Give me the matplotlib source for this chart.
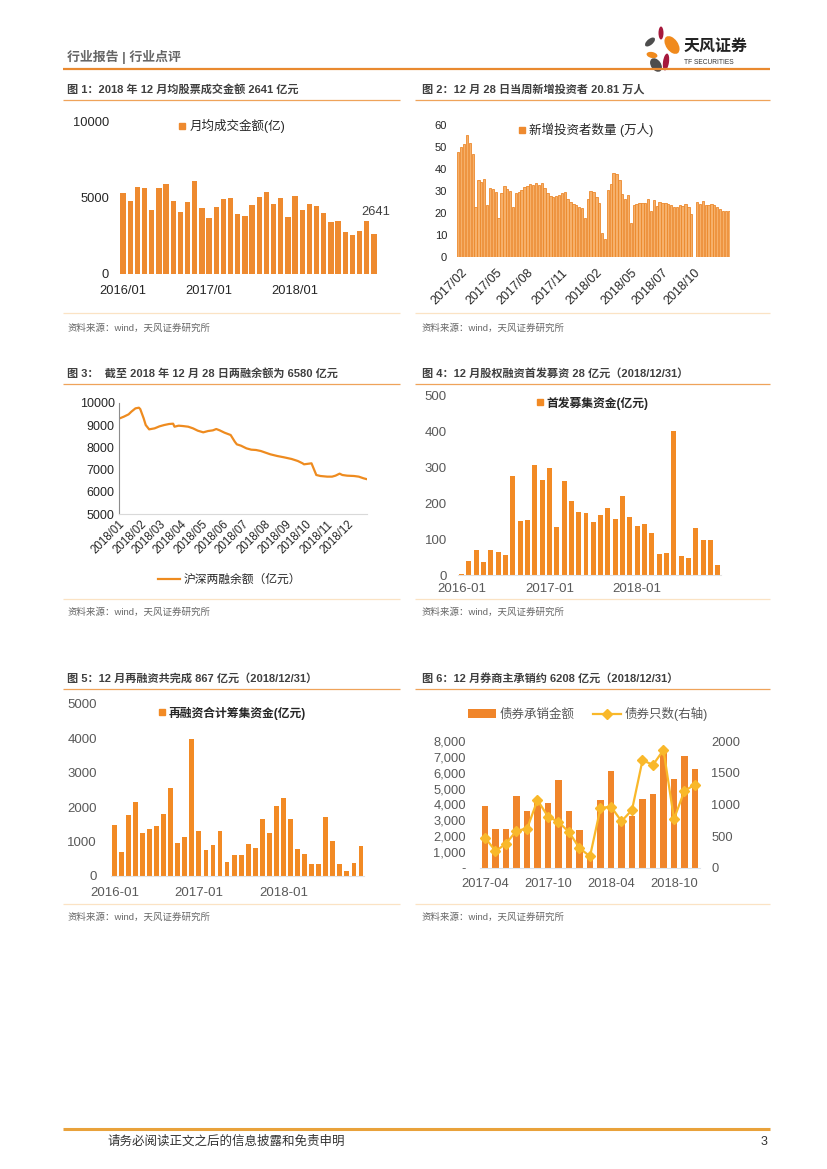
import numpy as np
import matplotlib
matplotlib.use('Agg')
import matplotlib.pyplot as plt
from matplotlib.lines import Line2D
from matplotlib.patches import Patch, Ellipse
import pandas as pd

plt.rcParams['font.family'] = ['Liberation Sans', 'Noto Sans CJK SC', 'DejaVu Sans']
plt.rcParams['axes.unicode_minus'] = False

# ---------------- data ----------------
c1_labels = ['2016/01', '2017/01', '2018/01']
c1_vals = [5325, 4827, 5736, 5628, 4242, 5649, 5952, 4783, 4048, 4719, 6104, 4372,
           3680, 4394, 4957, 5022, 3939, 3788, 4567, 5065, 5390, 4610, 5000, 3723,
           5130, 4199, 4610, 4502, 4026, 3420, 3463, 2792, 2554, 2857, 3485, 2641]

nan = float('nan')
c2_vals = [47.9, 50.2, 51.2, 55.5, 51.7, 46.8, 22.6, 35.0, 34.2, 35.3, 23.5, 31.2,
           30.8, 29.7, 17.6, 29.2, 32.4, 30.9, 29.8, 22.6, 29.2, 29.7, 30.5, 32.0,
           32.4, 33.2, 32.7, 33.8, 32.6, 33.5, 31.2, 28.9, 27.7, 27.1, 27.7, 28.3,
           28.9, 29.5, 26.4, 24.8, 24.2, 23.6, 22.6, 22.1, 17.6, 26.4, 30.0, 29.7,
           27.1, 24.7, 10.8, 8.2, 30.5, 33.0, 38.0, 37.6, 35.0, 28.6, 26.2, 28.0,
           15.3, 23.8, 24.2, 24.7, 24.4, 24.4, 26.2, 21.1, 25.9, 23.2, 25.2, 24.7,
           24.5, 23.9, 23.5, 22.7, 22.6, 23.6, 23.2, 23.9, 22.9, 19.5, nan, 25.0,
           24.1, 25.6, 23.6, 23.8, 24.1, 23.6, 22.9, 21.8, 21.1, 20.9, 20.81]
c2_tick_idx = [1, 13, 24, 36, 48, 60, 71, 82]
c2_tick_labels = ['2017/02', '2017/05', '2017/08', '2017/11', '2018/02', '2018/05', '2018/07', '2018/10']

c3_dates = ['2018-01-02', '2018-01-08', '2018-01-15', '2018-01-19', '2018-01-25', '2018-01-30',
            '2018-02-01', '2018-02-06', '2018-02-09', '2018-02-14', '2018-02-22', '2018-03-01',
            '2018-03-08', '2018-03-15', '2018-03-21', '2018-03-23', '2018-03-29', '2018-04-04',
            '2018-04-12', '2018-04-19', '2018-04-26', '2018-05-04', '2018-05-11', '2018-05-18',
            '2018-05-23', '2018-05-28', '2018-06-04', '2018-06-13', '2018-06-19', '2018-06-22',
            '2018-06-28', '2018-07-06', '2018-07-13', '2018-07-20', '2018-07-27', '2018-08-03',
            '2018-08-10', '2018-08-20', '2018-08-30', '2018-09-10', '2018-09-19', '2018-09-26',
            '2018-09-28', '2018-10-09', '2018-10-11', '2018-10-16', '2018-10-22', '2018-11-01',
            '2018-11-08', '2018-11-13', '2018-11-19', '2018-11-23', '2018-11-30', '2018-12-10',
            '2018-12-17', '2018-12-24', '2018-12-28']
c3_vals = [9299, 9373, 9478, 9597, 9746, 9776, 9716, 9299, 9000, 8806, 8851, 8940,
           9000, 9045, 9060, 8925, 8970, 8955, 8925, 8851, 8746, 8672, 8731, 8761,
           8821, 8761, 8657, 8552, 8254, 8134, 8075, 7955, 7896, 7881, 7836, 7761,
           7687, 7612, 7552, 7478, 7388, 7284, 7239, 7284, 7134, 6761, 6716, 6687,
           6687, 6731, 6821, 6761, 6731, 6716, 6687, 6612, 6580]
c3_months = ['2018/01', '2018/02', '2018/03', '2018/04', '2018/05', '2018/06',
             '2018/07', '2018/08', '2018/09', '2018/10', '2018/11', '2018/12']

c4_labels = ['2016-01', '2017-01', '2018-01']
c4_vals = [2, 39, 71, 36, 69, 64, 56, 277, 150, 155, 306, 264,
           299, 134, 262, 207, 176, 172, 148, 168, 186, 156, 222, 162,
           137, 143, 117, 58, 62, 403, 52, 47, 130, 98, 98, 28]

c5_labels = ['2016-01', '2017-01', '2018-01']
c5_vals = [1473, 688, 1773, 2161, 1240, 1366, 1453, 1793, 2558, 969, 1143, 3992,
           1308, 756, 901, 1298, 397, 620, 620, 930, 814, 1647, 1250, 2035,
           2258, 1647, 795, 649, 358, 358, 1705, 1008, 339, 136, 388, 867]

c6_months = ['2017-04', '2017-05', '2017-06', '2017-07', '2017-08', '2017-09', '2017-10',
             '2017-11', '2017-12', '2018-01', '2018-02', '2018-03', '2018-04', '2018-05',
             '2018-06', '2018-07', '2018-08', '2018-09', '2018-10', '2018-11', '2018-12']
c6_amount = [3900, 2480, 2440, 4530, 3610, 4100, 4110, 5570, 3610, 2380, 700,
             4280, 6120, 2900, 3260, 4320, 4680, 7250, 5620, 7080, 6208]
c6_count = [480, 266, 381, 590, 616, 1070, 809, 726, 564, 313, 183,
            945, 966, 736, 914, 1697, 1624, 1859, 773, 1217, 1311]

titles = ['图 1：2018 年 12 月均股票成交金额 2641 亿元',
          '图 2：12 月 28 日当周新增投资者 20.81 万人',
          '图 3：  截至 2018 年 12 月 28 日两融余额为 6580 亿元',
          '图 4：12 月股权融资首发募资 28 亿元（2018/12/31）',
          '图 5：12 月再融资共完成 867 亿元（2018/12/31）',
          '图 6：12 月券商主承销约 6208 亿元（2018/12/31）']
source = '资料来源：wind，天风证券研究所'

# ---------------- figure ----------------
W, H = 827, 1169
fig = plt.figure(figsize=(W / 100, H / 100), dpi=100)
bg = fig.add_axes([0, 0, 1, 1])
bg.set_xlim(0, W)
bg.set_ylim(H, 0)
bg.axis('off')

TITLE_C = '#3F3F3F'
GRAY = '#595959'


def pax(x0, y0, x1, y1):
    return fig.add_axes([x0 / W, 1 - y1 / H, (x1 - x0) / W, (y1 - y0) / H])


def fpos(x, y):
    return (x / W, 1 - y / H)


def clean(ax, color='#262626', size=9, padx=8, pady=8):
    for s in ax.spines.values():
        s.set_visible(False)
    ax.tick_params(axis='both', length=0, labelsize=size, colors=color)
    ax.tick_params(axis='x', pad=padx)
    ax.tick_params(axis='y', pad=pady)
    ax.patch.set_alpha(0)


# header
bg.text(67, 57, '行业报告 | 行业点评', fontsize=9.3, color='#666666', va='center', ha='left',
        fontweight='bold')
bg.plot([63, 770], [69, 69], color='#E9892F', lw=1.6, solid_capstyle='butt')
# logo petals
petals = [((661, 33), 5, 13, 0, '#A6193C'),
          ((650, 42), 6, 12, 50, '#4D4D4D'),
          ((672, 45), 12, 20, -35, '#F08A1D'),
          ((652, 55), 11, 6, 12, '#F08A1D'),
          ((656, 65), 10, 15, -35, '#4D4D4D'),
          ((666, 62), 6, 17, 8, '#A6193C')]
for c, w, h, a, col in petals:
    bg.add_patch(Ellipse(c, w, h, angle=a, color=col, lw=0))
bg.text(684, 46, '天风证券', fontsize=11.5, fontweight='bold', color='#222222', va='center', ha='left')
bg.text(684, 62, 'TF SECURITIES', fontsize=4.8, color='#333333', va='center', ha='left')

# footer
bg.plot([63, 770], [1129, 1129], color='#E9A23B', lw=2.2, solid_capstyle='butt')
bg.text(107, 1142, '请务必阅读正文之后的信息披露和免责申明', fontsize=9, color='#333333', va='center')
bg.text(767, 1142, '3', fontsize=9, color='#333333', va='center', ha='right')

# titles, lines, sources
cols = [(63, 400, 67), (415, 770, 422)]
rows = [(89, 100, 313, 328), (373, 384, 599, 612), (678, 689, 904, 917)]
k = 0
for (ty, ly, sy, sty) in rows:
    for (x0, x1, tx) in cols:
        bg.text(tx, ty, titles[k], fontsize=8, fontweight='bold', color=TITLE_C, va='center')
        bg.plot([x0, x1], [ly, ly], color='#EFA35A', lw=0.9, solid_capstyle='butt')
        bg.plot([x0, x1], [sy, sy], color='#FBE3C4', lw=0.9, solid_capstyle='butt')
        bg.text(tx, sty, source, fontsize=6.8, color='#666666', va='center')
        k += 1

# ---------------- chart 1 ----------------
ax1 = pax(119.5, 122, 377.5, 274)
x1 = np.arange(len(c1_vals))
ax1.bar(x1, c1_vals, width=0.74, color='#EE8A2F')
ax1.set_xlim(-0.5, len(c1_vals) - 0.5)
ax1.set_ylim(0, 10000)
ax1.set_yticks([0, 5000, 10000])
ax1.set_xticks([0, 12, 24])
ax1.set_xticklabels(c1_labels)
clean(ax1, size=9.3, padx=8, pady=7.5)
ax1.text(x1[-1] + 0.3, c1_vals[-1] + 1450, str(c1_vals[-1]), ha='center', va='center',
         fontsize=9.3, color='#404040')
h1 = Line2D([], [], marker='s', ls='none', color='#EE8A2F', markersize=5)
fig.legend([h1], ['月均成交金额(亿)'], loc='center left', bbox_to_anchor=fpos(178, 126),
           frameon=False, fontsize=9, handlelength=0.6, handletextpad=0.3,
           borderpad=0, borderaxespad=0, labelcolor='#262626')

# ---------------- chart 2 ----------------
ax2 = pax(456.9, 125, 730.1, 257)
x2 = np.arange(len(c2_vals))
ax2.bar(x2, c2_vals, width=0.8, facecolor='#F6B06A', edgecolor='#EC892C', linewidth=0.6)
ax2.set_xlim(-0.5, len(c2_vals) - 0.5)
ax2.set_ylim(0, 60)
ax2.set_yticks(range(0, 61, 10))
ax2.set_xticks(c2_tick_idx)
ax2.set_xticklabels(c2_tick_labels, rotation=45, ha='right', va='top', rotation_mode='anchor')
clean(ax2, size=8, padx=7, pady=7)
ax2.tick_params(axis='x', labelsize=9)
h2 = Line2D([], [], marker='s', ls='none', color='#EE8A2F', markersize=5)
fig.legend([h2], ['新增投资者数量 (万人)'], loc='center left', bbox_to_anchor=fpos(518, 130),
           frameon=False, fontsize=9, handlelength=0.6, handletextpad=0.3,
           borderpad=0, borderaxespad=0, labelcolor='#262626')

# ---------------- chart 3 ----------------
ax3 = pax(119, 402.7, 367, 514.3)
d3 = pd.to_datetime(c3_dates)
ax3.plot(d3, c3_vals, color='#EE8B1F', lw=1.6)
ax3.set_xlim(pd.Timestamp('2018-01-01'), pd.Timestamp('2018-12-29'))
ax3.set_ylim(5000, 10000)
ax3.set_yticks(range(5000, 10001, 1000))
mticks = pd.date_range('2018-01-01', '2018-12-01', freq='MS')
ax3.set_xticks(mticks)
ax3.set_xticklabels(c3_months, rotation=45, ha='right', va='top', rotation_mode='anchor')
clean(ax3, size=9, padx=3, pady=3)
ax3.tick_params(axis='x', labelsize=8.3)
ax3.spines['left'].set_visible(True)
ax3.spines['left'].set_color('#8C8C8C')
ax3.spines['bottom'].set_visible(True)
ax3.spines['bottom'].set_color('#D9D9D9')
h3 = Line2D([], [], color='#EE8B1F', lw=1.6)
fig.legend([h3], ['沪深两融余额（亿元）'], loc='center left', bbox_to_anchor=fpos(158, 580),
           frameon=False, fontsize=8.5, handlelength=1.9, handletextpad=0.25,
           borderpad=0, borderaxespad=0, labelcolor='#262626')

# ---------------- chart 4 ----------------
ax4 = pax(458, 396, 721.3, 575)
x4 = np.arange(len(c4_vals))
ax4.bar(x4, c4_vals, width=0.68, color='#F28A24')
ax4.set_xlim(-0.5, len(c4_vals) - 0.5)
ax4.set_ylim(0, 500)
ax4.set_yticks(range(0, 501, 100))
ax4.set_xticks([0, 12, 24])
ax4.set_xticklabels(c4_labels)
clean(ax4, color=GRAY, size=9.5, padx=6, pady=8)
ax4.spines['bottom'].set_visible(True)
ax4.spines['bottom'].set_color('#E3E3E3')
h4 = Line2D([], [], marker='s', ls='none', color='#F28A24', markersize=5)
fig.legend([h4], ['首发募集资金(亿元)'], loc='center left', bbox_to_anchor=fpos(536, 403),
           frameon=False, prop={'size': 8.5, 'weight': 'bold'}, handlelength=0.6, handletextpad=0.3,
           borderpad=0, borderaxespad=0, labelcolor='#262626')

# ---------------- chart 5 ----------------
ax5 = pax(110.8, 704, 364.5, 876)
x5 = np.arange(len(c5_vals))
ax5.bar(x5, c5_vals, width=0.68, color='#F28A24')
ax5.set_xlim(-0.5, len(c5_vals) - 0.5)
ax5.set_ylim(0, 5000)
ax5.set_yticks(range(0, 5001, 1000))
ax5.set_xticks([0, 12, 24])
ax5.set_xticklabels(c5_labels)
clean(ax5, color=GRAY, size=9.5, padx=8, pady=10)
ax5.spines['bottom'].set_visible(True)
ax5.spines['bottom'].set_color('#E3E3E3')
h5 = Line2D([], [], marker='s', ls='none', color='#F28A24', markersize=5)
fig.legend([h5], ['再融资合计筹集资金(亿元)'], loc='center left', bbox_to_anchor=fpos(158, 713),
           frameon=False, prop={'size': 8.5, 'weight': 'bold'}, handlelength=0.6, handletextpad=0.3,
           borderpad=0, borderaxespad=0, labelcolor='#262626')

# ---------------- chart 6 ----------------
ax6 = pax(479.75, 741, 700.25, 868)
x6 = np.arange(len(c6_amount))
ax6.bar(x6, c6_amount, width=0.58, color='#F0852A', zorder=2)
ax6.set_xlim(-0.5, len(c6_amount) - 0.5)
ax6.set_ylim(0, 8000)
ax6.set_yticks(range(0, 8001, 1000))
ax6.set_yticklabels(['-'] + [f'{v:,}' for v in range(1000, 8001, 1000)])
ax6.set_xticks([0, 6, 12, 18])
ax6.set_xticklabels([c6_months[i] for i in [0, 6, 12, 18]])
clean(ax6, color=GRAY, size=9.3, padx=7, pady=10)
ax6.spines['bottom'].set_visible(True)
ax6.spines['bottom'].set_color('#DDE3EC')
ax6r = ax6.twinx()
ax6r.plot(x6, c6_count, color='#F9B82A', lw=1.6, marker='D', markersize=4.8, zorder=3)
ax6r.set_ylim(0, 2000)
ax6r.set_yticks(range(0, 2001, 500))
clean(ax6r, color=GRAY, size=9.3, padx=7, pady=8)
ax6r.set_xlim(-0.5, len(c6_amount) - 0.5)
h6a = Patch(facecolor='#F0852A', edgecolor='none')
h6b = Line2D([], [], color='#F9B82A', lw=1.6, marker='D', markersize=4.8)
fig.legend([h6a, h6b], ['债券承销金额', '债券只数(右轴)'], loc='center left',
           bbox_to_anchor=fpos(468, 714), ncol=2, frameon=False, fontsize=9,
           handlelength=2.2, handletextpad=0.3, columnspacing=1.5,
           borderpad=0, borderaxespad=0, labelcolor=GRAY)

fig.savefig('out.png', dpi=100, facecolor='white')
